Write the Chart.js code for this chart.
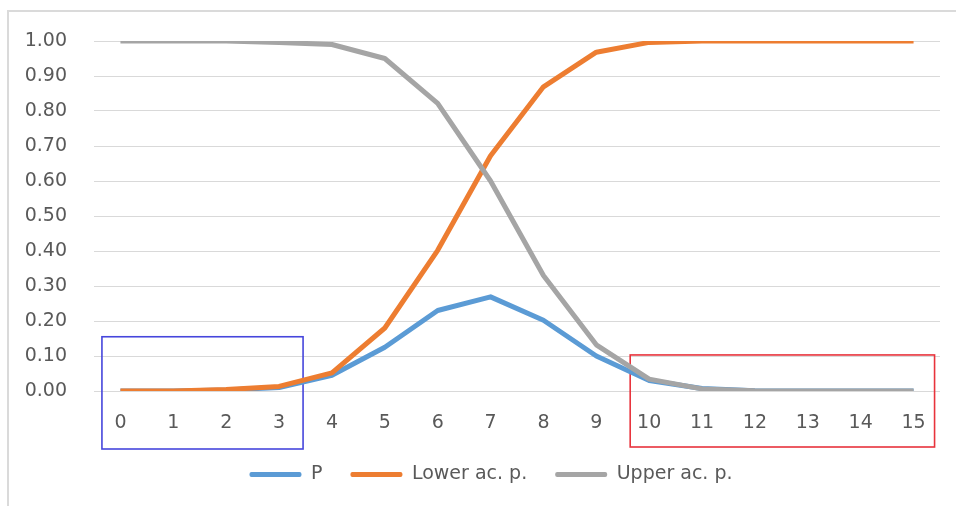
<!DOCTYPE html>
<html>
<head>
<meta charset="utf-8">
<script src="https://cdn.jsdelivr.net/npm/chart.js@4.4.1/dist/chart.umd.min.js"></script>
<style>
  html, body { margin: 0; padding: 0; background: #fff; overflow: hidden; }
  #wrap { position: relative; width: 956px; height: 506px; overflow: hidden; }
  #frame { position: absolute; left: 7px; top: 10px; width: 1000px; height: 600px;
           border: 2px solid #dadada; box-sizing: border-box; }
  #c { position: absolute; left: 0; top: 0; }
</style>
</head>
<body>
<div id="wrap">
  <div id="frame"></div>
  <canvas id="c" width="956" height="506"></canvas>
</div>
<script>
// Number of successes k = 0..15
const categories = ['0', '1', '2', '3', '4', '5', '6', '7', '8', '9', '10', '11', '12', '13', '14', '15'];

// Point probability P(k)
const pValues = [0.000, 0.000, 0.003, 0.010, 0.045, 0.125, 0.230, 0.269, 0.202, 0.100, 0.030, 0.007, 0.001, 0.000, 0.000, 0.000];

// Lower accumulated probability P(X <= k)
const lowerValues = [0.000, 0.000, 0.004, 0.013, 0.052, 0.180, 0.402, 0.672, 0.869, 0.968, 0.996, 1.000, 1.000, 1.000, 1.000, 1.000];

// Upper accumulated probability P(X >= k)
const upperValues = [1.000, 1.000, 1.000, 0.996, 0.990, 0.950, 0.822, 0.600, 0.330, 0.132, 0.034, 0.006, 0.001, 0.000, 0.000, 0.000];

// Value axis ticks
const yTicks = [0.0, 0.1, 0.2, 0.3, 0.4, 0.5, 0.6, 0.7, 0.8, 0.9, 1.0];

const textColor = '#595959';
const gridColor = '#d9d9d9';
const baseFont = { family: '"DejaVu Sans", sans-serif', size: 19 };

// Rectangles framing groups of categories (left tail / right tail)
const highlightBoxes = {
  id: 'highlightBoxes',
  beforeDatasetsDraw(chart, args, opts) {
    const { ctx, scales: { x, y }, chartArea } = chart;
    ctx.save();
    opts.boxes.forEach(b => {
      const left = x.getPixelForValue(b.from) - b.padLeft;
      const right = x.getPixelForValue(b.to) + b.padRight;
      const top = y.getPixelForValue(b.top);
      const bottom = chartArea.bottom + b.below;
      ctx.strokeStyle = b.color;
      ctx.lineWidth = 1.6;
      ctx.strokeRect(left, top, right - left, bottom - top);
    });
    ctx.restore();
  }
};

// Centre the legend under the region right of the value labels
const legendInset = {
  id: 'legendInset',
  afterLayout(chart, args, opts) {
    const lg = chart.legend;
    if (!lg) return;
    lg.left = opts.left;
    lg.width = lg.right - lg.left;
  }
};

const lineStyle = {
  borderWidth: 5,
  pointRadius: 0,
  pointHoverRadius: 0,
  tension: 0,
  fill: false,
  borderJoinStyle: 'round',
  borderCapStyle: 'butt'
};

new Chart(document.getElementById('c'), {
  type: 'line',
  data: {
    labels: categories,
    datasets: [
      { label: 'P', data: pValues, borderColor: '#5b9bd5', backgroundColor: '#5b9bd5', order: 3, ...lineStyle },
      { label: 'Lower ac. p.', data: lowerValues, borderColor: '#ed7d31', backgroundColor: '#ed7d31', order: 2, ...lineStyle },
      { label: 'Upper ac. p.', data: upperValues, borderColor: '#a5a5a5', backgroundColor: '#a5a5a5', order: 1, ...lineStyle }
    ]
  },
  options: {
    responsive: false,
    devicePixelRatio: 1,
    animation: false,
    events: [],
    layout: { padding: { left: 0, right: 16, top: 41, bottom: 12 } },
    scales: {
      x: {
        offset: true,
        grid: { display: false, drawTicks: false },
        border: { display: false },
        ticks: { color: textColor, font: baseFont, padding: 21, maxRotation: 0, autoSkip: false },
        afterFit(scale) { scale.height = 46; }
      },
      y: {
        min: 0,
        max: 1,
        afterBuildTicks(scale) { scale.ticks = yTicks.map(v => ({ value: v })); },
        grid: { color: gridColor, lineWidth: 1, drawTicks: false },
        border: { display: false },
        ticks: { color: textColor, font: baseFont, padding: 27, callback: v => Number(v).toFixed(2) },
        afterFit(scale) { scale.width = 94; }
      }
    },
    plugins: {
      tooltip: { enabled: false },
      legend: {
        position: 'bottom',
        labels: {
          color: textColor,
          font: baseFont,
          boxWidth: 52,
          boxHeight: 5,
          padding: 28,
          useBorderRadius: true,
          borderRadius: 2,
          sort: (a, b) => a.datasetIndex - b.datasetIndex,
          generateLabels(chart) {
            return Chart.defaults.plugins.legend.labels.generateLabels(chart).map(item => ({
              ...item, lineWidth: 0, fillStyle: item.strokeStyle
            }));
          }
        }
      },
      legendInset: { left: 42 },
      highlightBoxes: {
        boxes: [
          { from: 0, to: 3, top: 0.155, padLeft: 18.5, padRight: 24, below: 58, color: '#4646dc' },
          { from: 10, to: 15, top: 0.103, padLeft: 19, padRight: 21, below: 56, color: '#e8333c' }
        ]
      }
    }
  },
  plugins: [highlightBoxes, legendInset]
});
</script>
</body>
</html>
